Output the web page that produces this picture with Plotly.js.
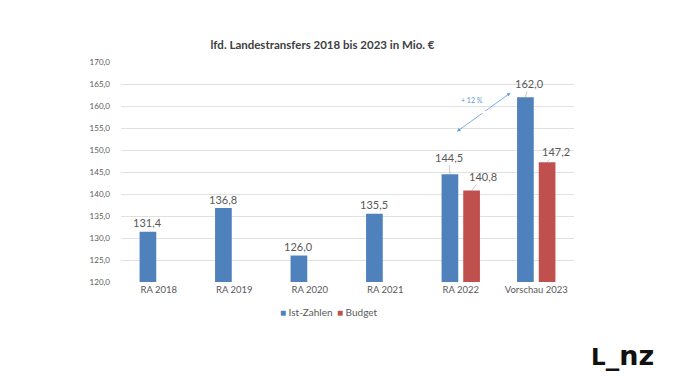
<!DOCTYPE html>
<html><head><meta charset="utf-8">
<script src="https://cdn.plot.ly/plotly-3.0.1.min.js"></script>
<style>html,body{margin:0;padding:0;background:#fff}#chart{width:680px;height:383px}</style>
</head><body><div id="chart"></div>
<script>
var categories = ["RA 2018","RA 2019","RA 2020","RA 2021","RA 2022","Vorschau 2023"];
var istZahlen = [131.4, 136.8, 126.0, 135.5, 144.5, 162.0];
var budget = [null, null, null, null, 140.8, 147.2];
var seriesNames = ["Ist-Zahlen","Budget"];
var seriesColors = ['#4F81BD','#C0504D'];
var yTicks = [120,125,130,135,140,145,150,155,160,165,170];
var changeLabel = "+ 12 %";
var titleText = "lfd. Landestransfers 2018 bis 2023 in Mio. €";

function fmt(v){ return v.toFixed(1).replace('.', ','); }

var txtColor = '#595959';
var font = 'Lato, "Open Sans", sans-serif';

var traces = [
  {type:'bar', name:seriesNames[0], x:categories, y:istZahlen, marker:{color:seriesColors[0]}, hoverinfo:'none'},
  {type:'bar', name:seriesNames[1], x:categories, y:budget, marker:{color:seriesColors[1]}, hoverinfo:'none'}
];

var istOff = [[0,-9,false],[0,-9,false],[0,-9,false],[0,-9,false],[-1,-17,true],[4,-14,true]];
var budOff = [null,null,null,null,[11,-14,true],[9,-11,true]];
var ann = [];
function addLabels(vals, off, shift){
  vals.forEach(function(v,i){
    if(v===null) return;
    var o = off[i];
    var a = {x:categories[i], y:v, xref:'x', yref:'y', xshift:shift, text:fmt(v),
      font:{family:font, size:11, color:txtColor}, showarrow:o[2]};
    if(o[2]){ a.ax=o[0]; a.ay=o[1]; a.arrowhead=0; a.arrowwidth=0.6; a.arrowcolor='#a6a6a6'; a.standoff=0; }
    else { a.yshift=-o[1]; }
    ann.push(a);
  });
}
addLabels(istZahlen, istOff, -10.85);
addLabels(budget, budOff, 10.85);

// double-headed change arrow: two halves from the midpoint
var arrA = [3.95, 154.2], arrB = [4.66, 163.0];
var mid = [(arrA[0]+arrB[0])/2, (arrA[1]+arrB[1])/2];
[arrA, arrB].forEach(function(p){
  ann.push({x:p[0], y:p[1], xref:'x', yref:'y', axref:'x', ayref:'y', ax:mid[0], ay:mid[1],
    text:'', showarrow:true, arrowhead:2, arrowsize:0.9, arrowwidth:0.8, arrowcolor:'#5B9BD5'});
});
ann.push({x:4.15, y:161.3, xref:'x', yref:'y', text:changeLabel, showarrow:false,
  font:{family:font, size:7, color:'#5B9BD5'}});
ann.push({xref:'paper', yref:'paper', x:(623-120.5)/453.5, y:(282.3-356)/220, xanchor:'center', yanchor:'middle',
  text:'<b><span style="font-size:23px">L</span>_nz</b>', showarrow:false,
  font:{family:'"DejaVu Sans", sans-serif', size:27, color:'#111'}});

var legX = [278, 335];
seriesNames.forEach(function(n,i){
  ann.push({xref:'paper', yref:'paper', x:(legX[i]-120.5)/453.5, y:(282.3-312)/220, xanchor:'left', yanchor:'middle',
    text:'<span style="color:'+seriesColors[i]+'; font-size:10px">■</span> '+n, showarrow:false,
    font:{family:font, size:10, color:txtColor}});
});

var layout = {
  width:680, height:383,
  margin:{l:120.5, r:106, t:62, b:100.7, pad:0},
  paper_bgcolor:'#fff', plot_bgcolor:'#fff',
  separators:',.',
  barmode:'group', bargap:0.426, bargroupgap:0.23,
  title:{text:'<b>'+titleText+'</b>', font:{family:font, size:11.5, color:'#404040'},
    xref:'container', yref:'container', x:322.5/680, xanchor:'center', y:1-45/383, yanchor:'middle'},
  xaxis:{type:'category', tickfont:{family:font, size:9.5, color:txtColor}, showgrid:false,
    showline:false, ticks:'', ticklen:0, fixedrange:true},
  yaxis:{range:[120,170], tickvals:yTicks, ticktext:yTicks.map(fmt), tickfont:{family:font, size:8, color:txtColor},
    showgrid:true, gridcolor:'#d9d9d9', gridwidth:0.8, zeroline:false, showline:false, ticks:'', ticklabelstandoff:10},
  showlegend:false,
  annotations:ann
};
Plotly.newPlot('chart', traces, layout, {staticPlot:true, displayModeBar:false});
</script></body></html>
